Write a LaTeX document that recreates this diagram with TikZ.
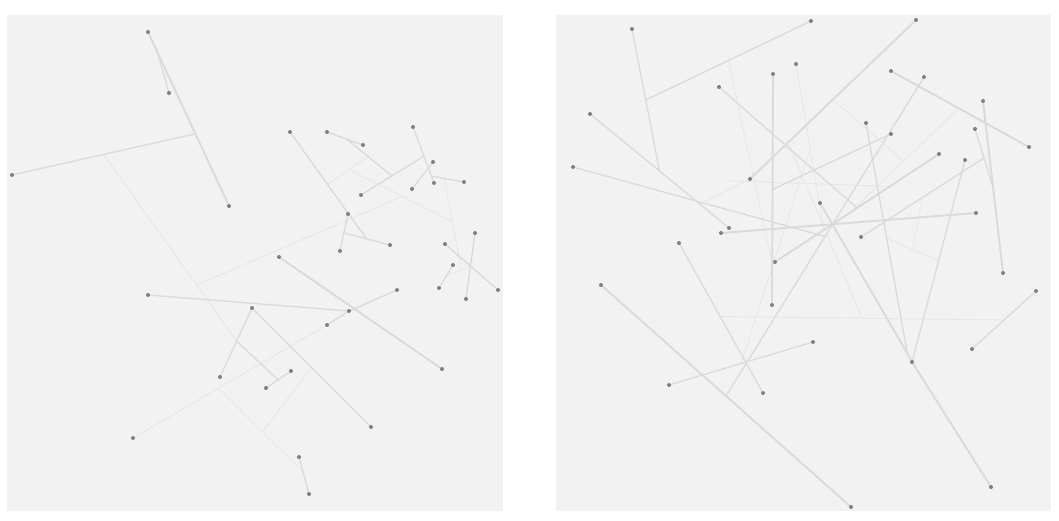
\documentclass[tikz,border=0pt]{standalone}
\usepackage{xcolor}
\usepackage{tikz}
\usetikzlibrary{calc}

\definecolor{panelgray}{HTML}{F2F2F2}
\definecolor{linkgray}{HTML}{DADADA}
\definecolor{ghostgray}{HTML}{E7E7E7}
\definecolor{dotgray}{HTML}{808080}

\begin{document}
\begin{tikzpicture}[
        x=1pt, y=-1pt,
        % Styles des traits
        heavy/.style={draw=linkgray, line width=1.9pt, line cap=round},
        bond/.style={draw=linkgray, line width=1.3pt, line cap=round},
        ghost/.style={draw=ghostgray, line width=0.9pt, line cap=round},
        % Style des panneaux
        panel/.style={fill=panelgray, draw=none}
    ]

    \useasboundingbox (0,0) rectangle (1059,521);
    \fill[white] (0,0) rectangle (1059,521);
    \fill[panel] (7,15) rectangle (503,511);
    \fill[panel] (556,15) rectangle (1051,511);

    % Panneau gauche : points
    \coordinate (a) at (148,32);   \coordinate (b) at (169,93);
    \coordinate (c) at (229,206);  \coordinate (d) at (12,175);
    \coordinate (e) at (290,132);  \coordinate (f) at (327,132);
    \coordinate (g) at (363,145);  \coordinate (h) at (413,127);
    \coordinate (i) at (433,162);  \coordinate (j) at (434,183);
    \coordinate (k) at (464,182);  \coordinate (l) at (412,189);
    \coordinate (m) at (361,195);  \coordinate (n) at (348,214);
    \coordinate (o) at (340,251);  \coordinate (p) at (390,245);
    \coordinate (q) at (445,244);  \coordinate (r) at (475,233);
    \coordinate (s) at (279,257);  \coordinate (t) at (453,265);
    \coordinate (u) at (439,288);  \coordinate (v) at (466,299);
    \coordinate (w) at (498,290);  \coordinate (x) at (252,308);
    \coordinate (y) at (349,311);  \coordinate (z) at (397,290);
    \coordinate (aa) at (327,325); \coordinate (ab) at (442,369);
    \coordinate (ac) at (291,371); \coordinate (ad) at (266,388);
    \coordinate (ae) at (371,427); \coordinate (af) at (299,457);
    \coordinate (ag) at (309,494); \coordinate (ah) at (148,295);
    \coordinate (ai) at (220,377); \coordinate (aj) at (133,438);

    % Panneau gauche : jonctions
    \coordinate (j1) at ($(a)!0.12!(c)$);
    \coordinate (j2) at ($(a)!0.585!(c)$);
    \coordinate (j4) at ($(o)!0.49!(n)$);
    \coordinate (j3) at ($(j4)!0.49!(p)$);
    \coordinate (j5) at ($(f)!0.55!(g)$);
    \coordinate (j7) at ($(h)!0.52!(j)$);
    \coordinate (j6) at ($(m)!0.49!(j7)$);
    \coordinate (j8) at ($(h)!0.875!(j)$);
    \coordinate (j9) at ($(t)!0.48!(u)$);
    \coordinate (j10) at ($(r)!0.5!(v)$);
    \coordinate (j11) at ($(x)!0.48!(ai)$);
    \coordinate (j12) at ($(ad)!0.48!(ac)$);
    \coordinate (j13) at ($(aj)!0.44!(aa)$);
    \coordinate (j14) at ($(af)!0.4!(ag)$);
    \coordinate (j15) at ($(j13)!0.52!(j14)$);
    \coordinate (j16) at ($(x)!0.5!(ae)$);
    \coordinate (j17) at ($(d)!0.5!(j2)$);
    \coordinate (j19) at ($(j17)!0.7!(j11)$);
    \coordinate (j20) at (401,197);
    \coordinate (j21) at ($(e)!0.49!(j3)$);
    \coordinate (j22) at ($(j5)!0.47!(j6)$);
    \coordinate (j23) at ($(j21)!0.53!(j22)$);
    \coordinate (j24) at ($(k)!0.6!(j8)$);
    \coordinate (j25) at ($(j9)!0.62!(j10)$);
    \coordinate (j26) at ($(j24)!0.47!(j25)$);

    % Panneau gauche : traits
    \draw[ghost] (j17) -- (j11);
    \draw[ghost] (j19) -- (j20);
    \draw[ghost] (j21) -- (j22);
    \draw[ghost] (j23) -- (j26);
    \draw[ghost] (j24) -- (j25);
    \draw[ghost] (j9) -- (j10);
    \draw[ghost] (j13) -- (j14);
    \draw[ghost] (j15) -- (j16);
    \draw[ghost] (aj) -- (aa);
    \draw[heavy] (a) -- (c);
    \draw[heavy] (s) -- (ab);
    \foreach \u/\v in {b/j1, d/j2, e/j3, o/n, j4/p, f/g, j5/j6, m/j7, h/j,
                       l/i, k/j8, q/w, r/v, t/u, ah/y, aa/y, y/z, x/ai,
                       x/ae, ad/ac, af/ag, j11/j12}
        \draw[bond] (\u) -- (\v);

    % Panneau droit : points
    \coordinate (n1) at (632,29);   \coordinate (n2) at (590,114);
    \coordinate (n3) at (573,167);  \coordinate (n4) at (719,87);
    \coordinate (n5) at (773,74);   \coordinate (n6) at (796,64);
    \coordinate (n7) at (750,179);  \coordinate (n8) at (729,228);
    \coordinate (n9) at (721,233);  \coordinate (n10) at (679,243);
    \coordinate (n11) at (811,21);  \coordinate (n12) at (916,20);
    \coordinate (n13) at (891,71);  \coordinate (n14) at (924,77);
    \coordinate (n15) at (983,101); \coordinate (n16) at (1029,147);
    \coordinate (n17) at (975,129); \coordinate (n18) at (866,123);
    \coordinate (n19) at (891,134); \coordinate (n20) at (939,154);
    \coordinate (n21) at (965,160); \coordinate (n22) at (820,203);
    \coordinate (n23) at (976,213); \coordinate (n24) at (861,237);
    \coordinate (n25) at (775,262); \coordinate (n26) at (772,305);
    \coordinate (n27) at (601,285); \coordinate (n28) at (669,385);
    \coordinate (n29) at (763,393); \coordinate (n30) at (1003,273);
    \coordinate (n31) at (1036,291); \coordinate (n32) at (972,349);
    \coordinate (n33) at (813,342); \coordinate (n34) at (912,362);
    \coordinate (n35) at (991,487); \coordinate (n36) at (851,507);

    % Panneau droit : jonctions
    \coordinate (m1) at ($(n2)!0.5!(n8)$);
    \coordinate (m2) at ($(n1)!0.5!(m1)$);
    \coordinate (m4) at ($(n27)!0.5!(n36)$);
    \coordinate (m3) at ($(n14)!0.5!(m4)$);
    \coordinate (m5) at ($(n20)!0.5!(n25)$);
    \coordinate (m6) at ($(n9)!0.4!(n23)$);
    \coordinate (m7) at ($(n15)!0.5!(n30)$);
    \coordinate (m9) at ($(n34)!0.05!(n35)$);
    \coordinate (m11) at ($(n22)!0.91!(m9)$);
    \coordinate (m12) at ($(n5)!0.5!(n26)$);
    \coordinate (m13) at ($(n17)!0.5!(m7)$);
    \coordinate (m14) at ($(n10)!0.49!(n29)$);
    \coordinate (m15) at ($(n32)!0.5!(n31)$);
    \coordinate (m16) at ($(n28)!0.5!(n33)$);
    \coordinate (m17) at ($(n7)!0.23!(n12)$);
    \coordinate (m18) at ($(m14)!0.5!(m15)$);
    \coordinate (m19) at ($(n6)!0.53!(m6)$);
    \coordinate (m20) at ($(n11)!0.5!(m2)$);
    \coordinate (m21) at ($(n5)!0.82!(n26)$);
    \coordinate (m22) at ($(n2)!0.79!(n8)$);
    \coordinate (m23) at ($(n13)!0.49!(n16)$);
    \coordinate (m24) at ($(n20)!0.54!(n25)$);
    \coordinate (m25) at ($(n7)!0.5!(n12)$);
    \coordinate (m26) at ($(m23)!0.51!(m24)$);
    \coordinate (m27) at ($(n24)!0.5!(m13)$);
    \coordinate (m28) at ($(n18)!0.5!(m11)$);
    \coordinate (m29) at ($(n21)!0.5!(n34)$);
    \coordinate (m30) at ($(m28)!0.5!(m29)$);
    \coordinate (m31) at (730,181);
    \coordinate (m32) at ($(n20)!0.3!(n25)$);

    % Panneau droit : traits
    \foreach \u/\v in {n6/m6, m14/m15, m17/m18, m19/m16, m20/m21, m22/n7,
                       m31/m32, m23/m24, m25/m26, m27/m30, m28/m29}
        \draw[ghost] (\u) -- (\v);
    \foreach \u/\v in {n2/n8, n1/m1, n11/m2, n3/m3, n14/m4, n4/m5, n17/m7,
                       n18/m11, n19/m12, n21/n34, n24/m13, n28/n33,
                       n10/n29, n32/n31}
        \draw[bond] (\u) -- (\v);
    \foreach \u/\v in {n7/n12, n27/n36, n20/n25, n5/n26, n9/n23, n34/n35,
                       n22/m9, n13/n16, n15/n30}
        \draw[heavy] (\u) -- (\v);

    % Points
    \foreach \pt in {a,b,c,d,e,f,g,h,i,j,k,l,m,n,o,p,q,r,s,t,u,v,w,x,y,z,
                     aa,ab,ac,ad,ae,af,ag,ah,ai,aj}
        \fill[dotgray] (\pt) circle (2pt);
    \foreach \nr in {1,...,36}
        \fill[dotgray] (n\nr) circle (2pt);

\end{tikzpicture}
\end{document}
